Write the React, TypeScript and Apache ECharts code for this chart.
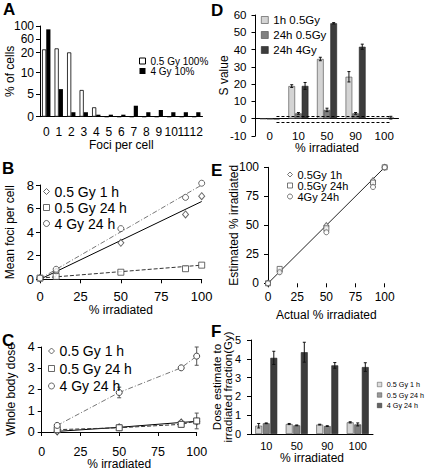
import React, { useEffect, useRef } from "react";
import * as echarts from "echarts";

const FONT = "'Liberation Sans', Arial, Helvetica, sans-serif";

// ---------- Panel A: distribution of foci ----------
const A_CATEGORIES = ["0", "1", "2", "3", "4", "5", "6", "7", "8", "9", "10", "11", "12"];
const A_LOW_DOSE_ALL = [30, 33, 21, 6, 2.1, 0, 0, 0, 0, 0, 0, 0, 0];
const A_HIGH_DOSE_PART = [90, 6.2, 1, 1, 0.45, 0.45, 0.45, 2.45, 1, 1.5, 1, 1, 1];
const A_TICK_VALUES = [0, 5, 10, 20, 60, 100];
// broken (piecewise) scale of panel A's y axis
const A_SCALE_STOPS = [0, 22.4, 44, 64, 77.3, 90.7];

// ---------- Panel B: mean foci per cell ----------
const B_X = [0, 10, 50, 90, 100];
const B_1H = [0.1, 0.65, 3.1, 5.5, 7.05];
const B_24H = [0.1, 0.25, 0.6, 0.9, 1.2];
const B_4GY = [0.1, 0.85, 4.3, 6.95, 8.15];
const B_FIT_X = [0, 100];
const B_FIT_1H = [0, 6.6];
const B_FIT_24H = [0.1, 1.2];
const B_FIT_4GY = [0.05, 8.0];

// ---------- Panel C: whole body dose ----------
const C_X = [10, 50, 90, 100];
const C_1H = [0.03, 0.22, 0.45, 0.5];
const C_24H = [0.11, 0.2, 0.36, 0.52];
const C_24H_ERR = [0, 0, 0, 0.37];
const C_4GY = [0.31, 1.86, 3.02, 3.57];
const C_4GY_ERR = [0.08, 0.25, 0, 0.43];

// ---------- Panel D: S value ----------
const D_CATEGORIES = ["0", "10", "50", "90", "100"];
const D_1H = [-0.3, 18.8, 34.5, 24.2, 0.2];
const D_1H_ERR = [0, 0.8, 1, 3, 0];
const D_24H_LOW = [-0.5, 3, 5, 3, 0.2];
const D_24H_LOW_ERR = [0, 0.5, 1, 0.5, 0];
const D_4GY = [-0.5, 18.9, 55.2, 41.6, 0.5];
const D_4GY_ERR = [0, 2, 0.4, 1.5, 0.8];
const D_THRESHOLDS = [1.5, -2];

// ---------- Panel E: estimated vs actual ----------
const E_X = [0, 10, 50, 90, 100];
const E_1H = [0, 10.5, 49.7, 88.5, 100];
const E_24H = [0, 12.4, 47.4, 86.8, 100];
const E_4GY = [0, 9.5, 44, 83, 100];
const E_IDENTITY = [0, 100];

// ---------- Panel F: dose estimate ----------
const F_CATEGORIES = ["10", "50", "90", "100"];
const F_1H = [0.44, 0.53, 0.5, 0.62];
const F_1H_ERR = [0.12, 0.03, 0.02, 0.03];
const F_24H_LOW = [0.57, 0.46, 0.42, 0.51];
const F_24H_LOW_ERR = [0.02, 0.02, 0.02, 0.08];
const F_4GY = [4.05, 4.35, 3.65, 3.56];
const F_4GY_ERR = [0.35, 0.53, 0.15, 0.23];

const LIGHT = "#d4d4d4";
const MID = "#808080";
const DARK = "#3c3c3c";

function aScale(v: number): number {
  for (let i = 0; i < A_TICK_VALUES.length - 1; i++) {
    const lo = A_TICK_VALUES[i];
    const hi = A_TICK_VALUES[i + 1];
    if (v <= hi) {
      return A_SCALE_STOPS[i] + ((v - lo) / (hi - lo)) * (A_SCALE_STOPS[i + 1] - A_SCALE_STOPS[i]);
    }
  }
  return A_SCALE_STOPS[A_SCALE_STOPS.length - 1];
}

function barErr(slot: number, n: number, catGap: number, barGap: number) {
  return (_params: any, api: any) => {
    const idx = api.value(0) as number;
    const v = api.value(1) as number;
    const e = api.value(2) as number;
    if (!e) return null;
    const band = api.size([1, 0])[0];
    const groupW = band * (1 - catGap);
    const bw = groupW / (n + (n - 1) * barGap);
    const x = api.coord([idx, 0])[0] - groupW / 2 + slot * bw * (1 + barGap) + bw / 2;
    const yt = api.coord([idx, v + e])[1];
    const yb = api.coord([idx, v - e])[1];
    const style = { stroke: "#111", lineWidth: 1 };
    return {
      type: "group",
      children: [
        { type: "line", shape: { x1: x, y1: yt, x2: x, y2: yb }, style },
        { type: "line", shape: { x1: x - 1.5, y1: yt, x2: x + 1.5, y2: yt }, style },
        { type: "line", shape: { x1: x - 1.5, y1: yb, x2: x + 1.5, y2: yb }, style },
      ],
    };
  };
}

function pointErr(_params: any, api: any) {
  const xv = api.value(0) as number;
  const v = api.value(1) as number;
  const e = api.value(2) as number;
  if (!e) return null;
  const top = api.coord([xv, v + e]);
  const bot = api.coord([xv, v - e]);
  const style = { stroke: "#555", lineWidth: 1 };
  return {
    type: "group",
    children: [
      { type: "line", shape: { x1: top[0], y1: top[1], x2: bot[0], y2: bot[1] }, style },
      { type: "line", shape: { x1: top[0] - 2, y1: top[1], x2: top[0] + 2, y2: top[1] }, style },
      { type: "line", shape: { x1: bot[0] - 2, y1: bot[1], x2: bot[0] + 2, y2: bot[1] }, style },
    ],
  };
}

const zip = (xs: number[], ys: number[]) => xs.map((x, i) => [x, ys[i]]);
const withErr = (vals: number[], errs: number[]) => vals.map((v, i) => [i, v, errs[i]]);
const withErrX = (xs: number[], vals: number[], errs: number[]) => xs.map((x, i) => [x, vals[i], errs[i]]);

const axisLineStyle = { lineStyle: { color: "#000", width: 1 } };
const tickStyle = { lineStyle: { color: "#000", width: 1 }, length: 4 };
const nameStyle = { fontSize: 12, color: "#000", fontFamily: FONT };
const labelStyle = (size: number, margin: number) => ({ fontSize: size, color: "#000", fontFamily: FONT, margin });

const hollow = (color: string) => ({ color: "#fff", borderColor: color, borderWidth: 1 });

function buildOption(): any {
  const grids = [
    { left: 40, top: 26, width: 162.5, height: 90.7 },
    { left: 40, top: 185, width: 161.7, height: 94.3 },
    { left: 41.7, top: 347, width: 155, height: 85 },
    { left: 255.5, top: 15, width: 143, height: 120.8 },
    { left: 268, top: 167.3, width: 116.7, height: 116 },
    { left: 251, top: 340, width: 122, height: 94 },
  ].map((g) => ({ ...g, containLabel: false, outerBoundsMode: "none" }));

  const noMove = { nameMoveOverlap: false };

  const xAxis: any[] = [
    // 0: A
    {
      ...noMove, type: "category", gridIndex: 0, data: A_CATEGORIES,
      axisLine: axisLineStyle, axisTick: { ...tickStyle, interval: 0 },
      axisLabel: { ...labelStyle(12, 9), interval: 0 },
      name: "Foci per cell", nameLocation: "middle", nameGap: 22, nameTextStyle: nameStyle,
    },
    // 1: B
    {
      ...noMove, type: "value", gridIndex: 1, min: 0, max: 100, interval: 25,
      axisLine: axisLineStyle, axisTick: tickStyle, splitLine: { show: false },
      axisLabel: labelStyle(13, 11),
      name: "% irradiated", nameLocation: "middle", nameGap: 24.5, nameTextStyle: nameStyle,
    },
    // 2: C
    {
      ...noMove, type: "value", gridIndex: 2, min: 0, max: 100, interval: 25,
      axisLine: axisLineStyle, axisTick: tickStyle, splitLine: { show: false },
      axisLabel: labelStyle(12.5, 13),
      name: "% irradiated", nameLocation: "middle", nameGap: 26, nameTextStyle: nameStyle,
    },
    // 3: D labels (bottom)
    {
      ...noMove, type: "category", gridIndex: 3, data: D_CATEGORIES, position: "bottom",
      axisLine: { show: false, onZero: false }, axisTick: { show: false },
      axisLabel: labelStyle(11.5, -6),
      name: "% irradiated", nameLocation: "middle", nameGap: 6, nameTextStyle: nameStyle,
    },
    // 4: D zero line
    {
      type: "category", gridIndex: 3, data: D_CATEGORIES, position: "top",
      axisLine: { ...axisLineStyle, onZero: true },
      axisTick: { ...tickStyle, inside: true, interval: 0 },
      axisLabel: { show: false },
    },
    // 5: E
    {
      ...noMove, type: "value", gridIndex: 4, min: 0, max: 100, interval: 25,
      axisLine: { show: false }, axisTick: { show: true, ...tickStyle }, splitLine: { show: false },
      axisLabel: labelStyle(12, 8),
      name: "Actual % irradiated", nameLocation: "middle", nameGap: 25.5, nameTextStyle: nameStyle,
    },
    // 6: F
    {
      ...noMove, type: "category", gridIndex: 5, data: F_CATEGORIES,
      axisLine: axisLineStyle, axisTick: { ...tickStyle, interval: 0 },
      axisLabel: labelStyle(11, 6),
      name: "% irradiated", nameLocation: "middle", nameGap: 17.5, nameTextStyle: nameStyle,
    },
  ];

  const yAxis: any[] = [
    // 0: A
    {
      ...noMove, type: "value", gridIndex: 0, min: 0, max: A_SCALE_STOPS[A_SCALE_STOPS.length - 1],
      axisLine: { show: true, ...axisLineStyle },
      axisTick: { show: true, ...tickStyle, customValues: A_SCALE_STOPS },
      axisLabel: {
        ...labelStyle(12, 6),
        customValues: A_SCALE_STOPS,
        formatter: (v: number) => {
          const i = A_SCALE_STOPS.findIndex((s) => Math.abs(s - v) < 0.01);
          return i >= 0 ? String(A_TICK_VALUES[i]) : "";
        },
      },
      splitLine: { show: false },
      name: "% of cells", nameLocation: "middle", nameGap: 24, nameTextStyle: nameStyle,
    },
    // 1: B
    {
      ...noMove, type: "value", gridIndex: 1, min: 0, max: 8, interval: 2,
      axisLine: { show: true, ...axisLineStyle }, axisTick: { show: true, ...tickStyle },
      axisLabel: labelStyle(13, 6), splitLine: { show: false },
      name: "Mean foci per cell", nameLocation: "middle", nameGap: 24, nameTextStyle: nameStyle,
    },
    // 2: C
    {
      ...noMove, type: "value", gridIndex: 2, min: 0, max: 4, interval: 1,
      axisLine: { show: true, ...axisLineStyle }, axisTick: { show: true, ...tickStyle },
      axisLabel: labelStyle(12.5, 7), splitLine: { show: false },
      name: "Whole body dose", nameLocation: "middle", nameGap: 25, nameTextStyle: nameStyle,
    },
    // 3: D
    {
      ...noMove, type: "value", gridIndex: 3, min: -10, max: 60, interval: 10,
      axisLine: { show: true, ...axisLineStyle }, axisTick: { show: true, ...tickStyle },
      axisLabel: labelStyle(11.5, 9), splitLine: { show: false },
      name: "S value", nameLocation: "middle", nameGap: 25.5, nameTextStyle: nameStyle,
    },
    // 4: E
    {
      ...noMove, type: "value", gridIndex: 4, min: 0, max: 100, interval: 25,
      axisLine: { show: true, ...axisLineStyle }, axisTick: { show: true, ...tickStyle },
      axisLabel: labelStyle(12, 9), splitLine: { show: false },
      name: "Estimated % irradiated", nameLocation: "middle", nameGap: 28, nameTextStyle: nameStyle,
    },
    // 5: F
    {
      ...noMove, type: "value", gridIndex: 5, min: 0, max: 5, interval: 1,
      axisLine: { show: true, ...axisLineStyle }, axisTick: { show: true, ...tickStyle },
      axisLabel: labelStyle(11, 10), splitLine: { show: false },
      name: "Dose estimate to\nirradiated fraction(Gy)", nameLocation: "middle", nameGap: 18,
      nameTextStyle: { ...nameStyle, fontSize: 11.5, lineHeight: 11 },
    },
  ];

  const dash = [4, 2];
  const dashDot = [5, 2, 1, 2];

  const series: any[] = [
    // ----- A -----
    {
      name: "0.5 Gy 100%", type: "bar", xAxisIndex: 0, yAxisIndex: 0,
      data: A_LOW_DOSE_ALL.map(aScale), barGap: "0%", barCategoryGap: "33%",
      itemStyle: { color: "#fff", borderColor: "#000", borderWidth: 0.8 },
    },
    {
      name: "4 Gy 10%", type: "bar", xAxisIndex: 0, yAxisIndex: 0,
      data: A_HIGH_DOSE_PART.map(aScale), barGap: "0%", barCategoryGap: "33%",
      itemStyle: { color: "#000" },
    },
    // ----- B -----
    {
      name: "B fit 1 h", type: "line", xAxisIndex: 1, yAxisIndex: 1, data: zip(B_FIT_X, B_FIT_1H),
      symbol: "none", lineStyle: { color: "#000", width: 1 }, z: 1,
    },
    {
      name: "B fit 24 h", type: "line", xAxisIndex: 1, yAxisIndex: 1, data: zip(B_FIT_X, B_FIT_24H),
      symbol: "none", lineStyle: { color: "#333", width: 1, type: dash }, z: 1,
    },
    {
      name: "B fit 4 Gy", type: "line", xAxisIndex: 1, yAxisIndex: 1, data: zip(B_FIT_X, B_FIT_4GY),
      symbol: "none", lineStyle: { color: "#777", width: 1, type: dashDot }, z: 1,
    },
    {
      name: "0.5 Gy 1 h", type: "scatter", xAxisIndex: 1, yAxisIndex: 1, data: zip(B_X, B_1H),
      symbol: "diamond", symbolSize: [6, 7], itemStyle: hollow("#444"), clip: false, z: 3,
    },
    {
      name: "0.5 Gy 24 h", type: "scatter", xAxisIndex: 1, yAxisIndex: 1, data: zip(B_X, B_24H),
      symbol: "rect", symbolSize: 6, itemStyle: hollow("#444"), clip: false, z: 3,
    },
    {
      name: "4 Gy 24 h", type: "scatter", xAxisIndex: 1, yAxisIndex: 1, data: zip(B_X, B_4GY),
      symbol: "circle", symbolSize: 6, itemStyle: hollow("#444"), clip: false, z: 3,
    },
    // ----- C -----
    {
      name: "0.5 Gy 1 h", type: "line", xAxisIndex: 2, yAxisIndex: 2, data: zip(C_X, C_1H),
      symbol: "diamond", symbolSize: [6, 7], showAllSymbol: true, itemStyle: hollow("#444"),
      lineStyle: { color: "#000", width: 1 }, z: 3,
    },
    {
      name: "0.5 Gy 24 h", type: "line", xAxisIndex: 2, yAxisIndex: 2, data: zip(C_X, C_24H),
      symbol: "rect", symbolSize: 6, itemStyle: hollow("#444"),
      lineStyle: { color: "#333", width: 1, type: dash }, z: 3,
    },
    {
      name: "4 Gy 24 h", type: "line", xAxisIndex: 2, yAxisIndex: 2, data: zip(C_X, C_4GY),
      symbol: "circle", symbolSize: 6, itemStyle: hollow("#444"),
      lineStyle: { color: "#777", width: 1, type: dashDot }, z: 3,
    },
    {
      name: "C err 24 h", type: "custom", xAxisIndex: 2, yAxisIndex: 2,
      data: withErrX(C_X, C_24H, C_24H_ERR), renderItem: pointErr, encode: { x: 0, y: 1 }, z: 2,
    },
    {
      name: "C err 4 Gy", type: "custom", xAxisIndex: 2, yAxisIndex: 2,
      data: withErrX(C_X, C_4GY, C_4GY_ERR), renderItem: pointErr, encode: { x: 0, y: 1 }, z: 2,
    },
    // ----- D -----
    {
      name: "1h 0.5Gy", type: "bar", xAxisIndex: 3, yAxisIndex: 3, data: D_1H,
      barGap: "0%", barCategoryGap: "30%", itemStyle: { color: LIGHT, borderColor: "#444", borderWidth: 0.6 },
    },
    {
      name: "24h 0.5Gy", type: "bar", xAxisIndex: 3, yAxisIndex: 3, data: D_24H_LOW,
      barGap: "0%", barCategoryGap: "30%", itemStyle: { color: MID, borderColor: "#444", borderWidth: 0.6 },
    },
    {
      name: "24h 4Gy", type: "bar", xAxisIndex: 3, yAxisIndex: 3, data: D_4GY,
      barGap: "0%", barCategoryGap: "30%", itemStyle: { color: DARK, borderColor: "#222", borderWidth: 0.6 },
      markLine: {
        silent: true, symbol: "none", label: { show: false },
        lineStyle: { color: "#000", width: 1, type: [3, 2] },
        data: D_THRESHOLDS.map((t) => [
          { coord: [D_CATEGORIES[0], t] },
          { coord: [D_CATEGORIES[D_CATEGORIES.length - 1], t] },
        ]),
      },
    },
    {
      name: "D err 1", type: "custom", xAxisIndex: 3, yAxisIndex: 3, data: withErr(D_1H, D_1H_ERR),
      renderItem: barErr(0, 3, 0.3, 0), encode: { x: 0, y: 1 }, z: 4,
    },
    {
      name: "D err 2", type: "custom", xAxisIndex: 3, yAxisIndex: 3, data: withErr(D_24H_LOW, D_24H_LOW_ERR),
      renderItem: barErr(1, 3, 0.3, 0), encode: { x: 0, y: 1 }, z: 4,
    },
    {
      name: "D err 3", type: "custom", xAxisIndex: 3, yAxisIndex: 3, data: withErr(D_4GY, D_4GY_ERR),
      renderItem: barErr(2, 3, 0.3, 0), encode: { x: 0, y: 1 }, z: 4,
    },
    // ----- E -----
    {
      name: "E identity", type: "line", xAxisIndex: 5, yAxisIndex: 4, data: zip(E_IDENTITY, E_IDENTITY),
      symbol: "none", lineStyle: { color: "#222", width: 1 }, z: 1,
    },
    {
      name: "0.5Gy 1h", type: "scatter", xAxisIndex: 5, yAxisIndex: 4, data: zip(E_X, E_1H),
      symbol: "diamond", symbolSize: [5, 6], itemStyle: hollow("#555"), clip: false, z: 3,
    },
    {
      name: "0.5Gy 24h", type: "scatter", xAxisIndex: 5, yAxisIndex: 4, data: zip(E_X, E_24H),
      symbol: "rect", symbolSize: 5, itemStyle: hollow("#555"), clip: false, z: 3,
    },
    {
      name: "4Gy 24h", type: "scatter", xAxisIndex: 5, yAxisIndex: 4, data: zip(E_X, E_4GY),
      symbol: "circle", symbolSize: 5, itemStyle: hollow("#555"), clip: false, z: 3,
    },
    // ----- F -----
    {
      name: "0.5 Gy 1 h", type: "bar", xAxisIndex: 6, yAxisIndex: 5, data: F_1H,
      barGap: "10%", barCategoryGap: "28%", itemStyle: { color: LIGHT, borderColor: "#444", borderWidth: 0.6 },
    },
    {
      name: "0.5 Gy 24 h", type: "bar", xAxisIndex: 6, yAxisIndex: 5, data: F_24H_LOW,
      barGap: "10%", barCategoryGap: "28%", itemStyle: { color: MID, borderColor: "#444", borderWidth: 0.6 },
    },
    {
      name: "4 Gy 24 h", type: "bar", xAxisIndex: 6, yAxisIndex: 5, data: F_4GY,
      barGap: "10%", barCategoryGap: "28%", itemStyle: { color: DARK, borderColor: "#222", borderWidth: 0.6 },
    },
    {
      name: "F err 1", type: "custom", xAxisIndex: 6, yAxisIndex: 5, data: withErr(F_1H, F_1H_ERR),
      renderItem: barErr(0, 3, 0.28, 0.1), encode: { x: 0, y: 1 }, z: 4,
    },
    {
      name: "F err 2", type: "custom", xAxisIndex: 6, yAxisIndex: 5, data: withErr(F_24H_LOW, F_24H_LOW_ERR),
      renderItem: barErr(1, 3, 0.28, 0.1), encode: { x: 0, y: 1 }, z: 4,
    },
    {
      name: "F err 3", type: "custom", xAxisIndex: 6, yAxisIndex: 5, data: withErr(F_4GY, F_4GY_ERR),
      renderItem: barErr(2, 3, 0.28, 0.1), encode: { x: 0, y: 1 }, z: 4,
    },
  ];

  const legendBase = {
    orient: "vertical", padding: 0, selectedMode: false,
  };
  const legend: any[] = [
    {
      ...legendBase, left: 139, top: 56, itemGap: 0, itemWidth: 6, itemHeight: 6,
      textStyle: { fontSize: 10, color: "#000", fontFamily: FONT, lineHeight: 10 },
      data: [
        { name: "0.5 Gy 100%", icon: "rect", itemStyle: { color: "#fff", borderColor: "#000", borderWidth: 1 } },
        { name: "4 Gy 10%", icon: "rect", itemStyle: { color: "#000", borderWidth: 0 } },
      ],
    },
    {
      ...legendBase, left: 43, top: 184.5, itemGap: 2, itemWidth: 6, itemHeight: 6,
      textStyle: { fontSize: 14, color: "#000", fontFamily: FONT, lineHeight: 14 },
      data: [
        { name: "0.5 Gy 1 h", icon: "diamond", itemStyle: hollow("#444") },
        { name: "0.5 Gy 24 h", icon: "rect", itemStyle: hollow("#444") },
        { name: "4 Gy 24 h", icon: "circle", itemStyle: hollow("#444") },
      ],
    },
    {
      ...legendBase, left: 48, top: 344, itemGap: 3.5, itemWidth: 6, itemHeight: 6,
      textStyle: { fontSize: 14, color: "#000", fontFamily: FONT, lineHeight: 14 },
      data: [
        { name: "0.5 Gy 1 h", icon: "diamond", itemStyle: hollow("#444") },
        { name: "0.5 Gy 24 h", icon: "rect", itemStyle: hollow("#444") },
        { name: "4 Gy 24 h", icon: "circle", itemStyle: hollow("#444") },
      ],
    },
    {
      ...legendBase, left: 261, top: 14, itemGap: 3, itemWidth: 7, itemHeight: 7,
      textStyle: { fontSize: 11.5, color: "#000", fontFamily: FONT, lineHeight: 11.5 },
      data: [
        { name: "1h 0.5Gy", icon: "rect", itemStyle: { color: LIGHT, borderColor: "#444", borderWidth: 0.6 } },
        { name: "24h 0.5Gy", icon: "rect", itemStyle: { color: MID, borderColor: "#444", borderWidth: 0.6 } },
        { name: "24h 4Gy", icon: "rect", itemStyle: { color: DARK, borderColor: "#222", borderWidth: 0.6 } },
      ],
    },
    {
      ...legendBase, left: 287, top: 169, itemGap: 0, itemWidth: 5, itemHeight: 5,
      textStyle: { fontSize: 11, color: "#000", fontFamily: FONT, lineHeight: 11 },
      data: [
        { name: "0.5Gy 1h", icon: "diamond", itemStyle: hollow("#555") },
        { name: "0.5Gy 24h", icon: "rect", itemStyle: hollow("#555") },
        { name: "4Gy 24h", icon: "circle", itemStyle: hollow("#555") },
      ],
    },
    {
      ...legendBase, left: 377, top: 379.5, itemGap: 0.5, itemWidth: 4.5, itemHeight: 4.5,
      textStyle: { fontSize: 7.2, color: "#000", fontFamily: FONT, lineHeight: 10 },
      data: [
        { name: "0.5 Gy 1 h", icon: "rect", itemStyle: { color: LIGHT, borderColor: "#444", borderWidth: 0.6 } },
        { name: "0.5 Gy 24 h", icon: "rect", itemStyle: { color: MID, borderColor: "#444", borderWidth: 0.6 } },
        { name: "4 Gy 24 h", icon: "rect", itemStyle: { color: DARK, borderColor: "#222", borderWidth: 0.6 } },
      ],
    },
  ];

  const letter = (text: string, x: number, y: number) => ({
    type: "text", x, y,
    style: { text, font: `bold 17px ${FONT}`, fill: "#000", textAlign: "left", textVerticalAlign: "middle" },
  });

  return {
    animation: false,
    backgroundColor: "#fff",
    textStyle: { fontFamily: FONT },
    grid: grids,
    xAxis,
    yAxis,
    series,
    legend,
    graphic: [
      letter("A", 3, 9),
      letter("B", 2, 168),
      letter("C", 2, 340),
      letter("D", 211, 10),
      letter("E", 211, 170),
      letter("F", 211, 331),
    ],
  };
}

export default function App() {
  const ref = useRef<HTMLDivElement>(null);
  useEffect(() => {
    document.body.style.margin = "0";
    if (!ref.current) return;
    const chart = echarts.init(ref.current, undefined, { renderer: "svg" });
    chart.setOption(buildOption());
    return () => chart.dispose();
  }, []);
  return <div ref={ref} style={{ width: 425, height: 471 }} />;
}
